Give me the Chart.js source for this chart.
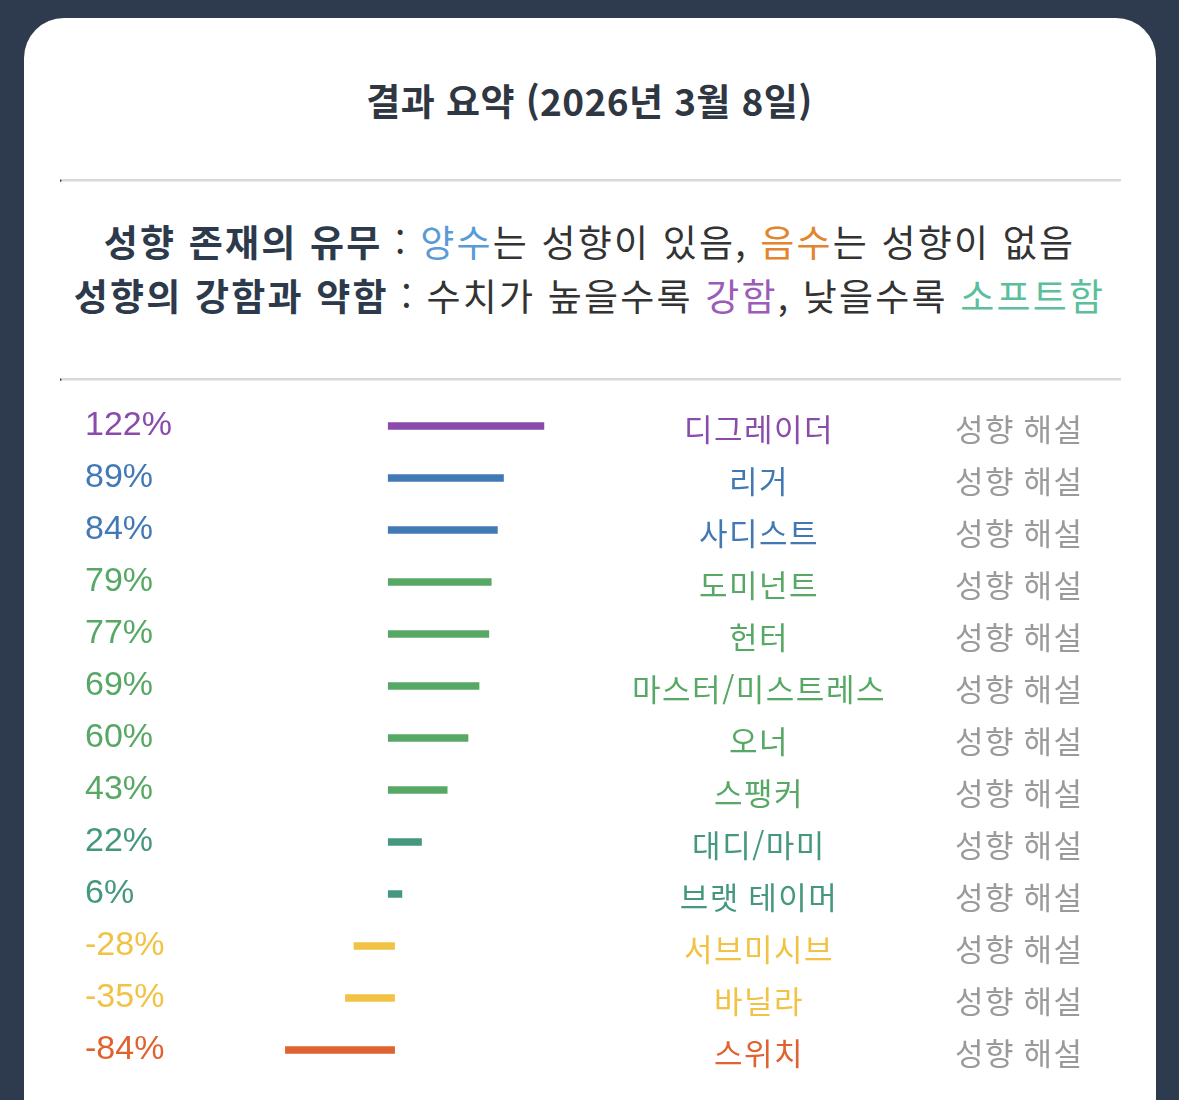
<!DOCTYPE html>
<html lang="ko">
<head>
<meta charset="utf-8">
<script src="https://cdn.jsdelivr.net/npm/chart.js@4/dist/chart.umd.min.js"></script>
<style>
  html, body { margin: 0; padding: 0; }
  body {
    width: 1179px; height: 1100px; overflow: hidden;
    background: #2e3a4d; position: relative;
    font-family: "Noto Sans CJK KR", "Noto Sans", sans-serif;
  }
  .card {
    position: absolute; left: 24px; top: 18px; width: 1132px; height: 1120px;
    background: #fff; border-radius: 40px;
  }
  .title {
    position: absolute; left: 0; top: 76px; width: 1179px; text-align: center;
    font-size: 37px; font-weight: 700; line-height: 48px; color: #2f3743;
    letter-spacing: 0.4px;
  }
  .rule {
    position: absolute; left: 60px; width: 1059px; height: 0;
    border-top: 2px solid #d9d9d9; border-bottom: 1px solid #ececec;
    border-left: 2px solid #444;
  }
  .legend {
    position: absolute; left: 0; top: 214px; width: 1179px; text-align: center;
    font-size: 37px; line-height: 54px; color: #333; letter-spacing: 2.2px;
  }
  .legend b { color: #2c3a4c; font-weight: 700; }
  #chart { position: absolute; left: 60px; top: 400px; }
</style>
</head>
<body>
<div class="card"></div>
<div class="title">결과 요약 (2026년 3월 8일)</div>
<div class="rule" style="top:179px"></div>
<div class="legend">
  <div><b>성향 존재의 유무</b> : <span style="color:#5a9bd6">양수</span>는 성향이 있음, <span style="color:#e3852f">음수</span>는 성향이 없음</div>
  <div><b>성향의 강함과 약함</b> : 수치가 높을수록 <span style="color:#9b5bb8">강함</span>, 낮을수록 <span style="color:#5cbf9b">소프트함</span></div>
</div>
<div class="rule" style="top:378px"></div>
<canvas id="chart" width="1060" height="676"></canvas>
<script>
const categories = ['디그레이더', '리거', '사디스트', '도미넌트', '헌터', '마스터/미스트레스',
  '오너', '스팽커', '대디/마미', '브랫 테이머', '서브미시브', '바닐라', '스위치'];
const values = [122, 89, 84, 79, 77, 69, 60, 43, 22, 6, -28, -35, -84];
const rowColors = ['#8b4bab', '#4279b5', '#4279b5', '#57a865', '#57a865', '#57a865',
  '#57a865', '#57a865', '#45987f', '#45987f', '#f1c244', '#f1c244', '#df6230'];
const noteLabel = '성향 해설';

// names in the middle column, "성향 해설" in the right column
const rowText = {
  id: 'rowText',
  afterDatasetsDraw(chart) {
    const ctx = chart.ctx;
    const y = chart.scales.y;
    ctx.save();
    ctx.textBaseline = 'middle';
    ctx.font = '31px "Noto Sans CJK KR"';
    ctx.letterSpacing = '1.5px';
    categories.forEach((name, i) => {
      const py = y.getPixelForValue(i) + 3;
      ctx.fillStyle = rowColors[i];
      ctx.textAlign = 'center';
      ctx.fillText(name, 699, py);
      ctx.fillStyle = '#9a9a9a';
      ctx.textAlign = 'left';
      ctx.fillText(noteLabel, 895, py);
    });
    ctx.restore();
  }
};

new Chart(document.getElementById('chart'), {
  type: 'bar',
  data: {
    labels: categories,
    datasets: [{
      data: values,
      backgroundColor: rowColors,
      barThickness: 0.5,
      inflateAmount: 3.5,
      borderWidth: 0
    }]
  },
  options: {
    indexAxis: 'y',
    responsive: false,
    animation: false,
    devicePixelRatio: 1,
    layout: { padding: { left: 25, right: 545, top: 0, bottom: 0 } },
    plugins: { legend: { display: false }, tooltip: { enabled: false } },
    scales: {
      x: { display: false, min: -100, max: 150 },
      y: {
        grid: { display: false },
        border: { display: false },
        afterFit(scale) {
          scale.width = 184;
          scale.paddingTop = 0;
          scale.paddingBottom = 0;
        },
        ticks: {
          crossAlign: 'far',
          padding: 0,
          font: { family: '"Liberation Sans", Arial, sans-serif', size: 34 },
          color: ctx => rowColors[ctx.index],
          callback: (v, i) => values[i] + '%'
        }
      }
    }
  },
  plugins: [rowText]
});
</script>
</body>
</html>
